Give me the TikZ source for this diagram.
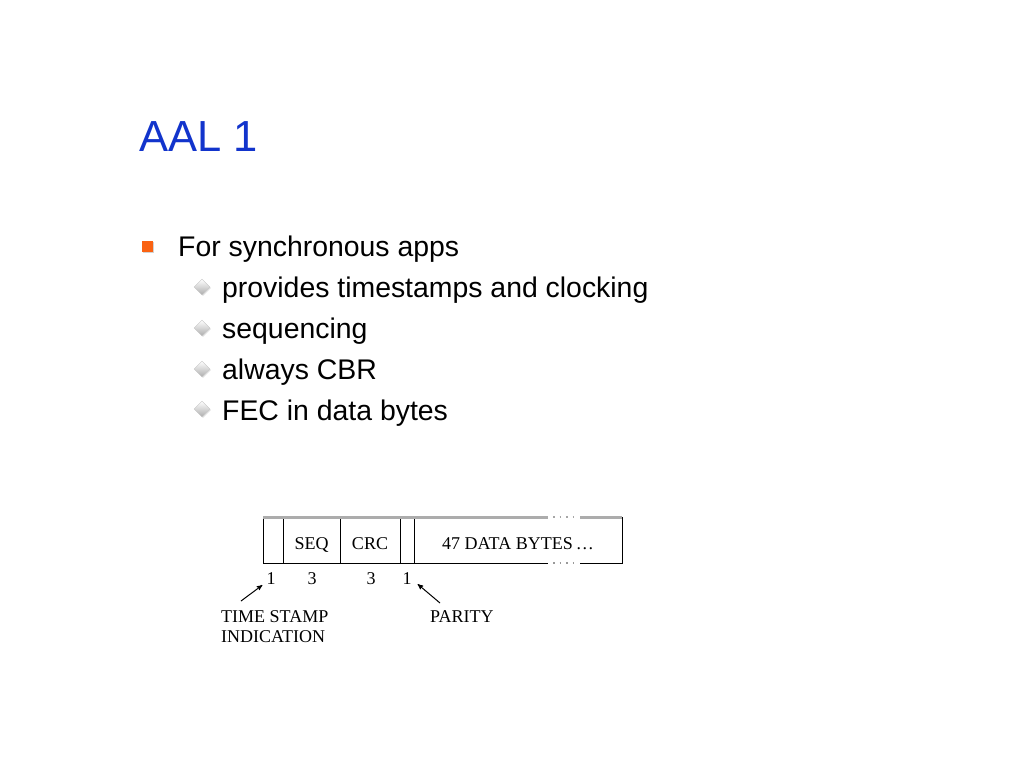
\documentclass[tikz,border=0pt]{standalone}
\usepackage{fontspec}
\setmainfont{Liberation Sans}
\newfontfamily\figfont{Liberation Serif}
\usetikzlibrary{calc,arrows,shapes.geometric,shadows}
\definecolor{titleblue}{RGB}{18,52,204}
\definecolor{bulorange}{RGB}{250,98,18}
\tikzstyle{arr}=[->,>=stealth',line width=1pt]

\begin{document}
\begin{tikzpicture}[x=1pt,y=-1pt]
\useasboundingbox[fill=white] (0,0) rectangle (1024,768);
\tikzstyle{t}=[anchor=base west,inner sep=0pt,font=\fontsize{28.4}{34}\selectfont]
\tikzstyle{dia}=[diamond,draw=gray!45,top color=white,bottom color=gray!65,minimum size=16pt,inner sep=0pt,drop shadow={shadow xshift=1pt,shadow yshift=-1pt,opacity=0.25}]
\tikzstyle{fld}=[rectangle,draw,line width=0.8pt,minimum height=46pt,inner sep=0pt,text height=18pt,text depth=0pt,font=\figfont\fontsize{18}{20}\selectfont]
\tikzstyle{num}=[inner sep=1pt,font=\figfont\fontsize{18}{20}\selectfont]
\tikzstyle{lab}=[anchor=north west,inner sep=0pt,align=left,font=\figfont\fontsize{18}{20}\selectfont]

\node[anchor=base west,inner sep=0pt,text=titleblue,font=\fontsize{43.5}{52}\selectfont] (title) at (139,151) {AAL 1};

% bullets
\node[rectangle,fill=bulorange,minimum size=11pt,inner sep=0pt,drop shadow={shadow xshift=1.5pt,shadow yshift=-1.5pt,opacity=0.35}] (b0) at (147,246) {};
\node[t] (l0) at (178,256) {For synchronous apps};
\node[dia] (d1) at (202,287) {};
\node[t] (l1) at (222,297) {provides timestamps and clocking};
\node[dia] (d2) at (202,328) {};
\node[t] (l2) at (222,338) {sequencing};
\node[dia] (d3) at (202,369) {};
\node[t] (l3) at (222,379) {always CBR};
\node[dia] (d4) at (202,409) {};
\node[t] (l4) at (222,420) {FEC in data bytes};

% cell format
\node[fld,minimum width=20pt] (ts) at (273,540) {};
\node[fld,minimum width=57pt] (seq) at (311.5,540) {SEQ};
\node[fld,minimum width=60pt] (crc) at (370,540) {CRC};
\node[fld,minimum width=14pt] (par) at (407,540) {};
\node[fld,minimum width=208pt] (data) at (518,540) {47 DATA BYTES\,\ldots};
\fill[white] (548,515) rectangle (580,520);
\fill[white] (548,561) rectangle (580,565);
\draw[gray!65,line width=3pt] (263,517) -- (548,517) (580,517) -- (622.4,517);
\draw[gray!70,line width=1.6pt,dash pattern=on 1.6pt off 5pt] (553,517) -- (578,517);
\draw[gray!80,line width=1.6pt,dash pattern=on 1.6pt off 5pt] (553,563) -- (578,563);

\node[num] (n1) at (271,579) {1};
\node[num] (n2) at (312,579) {3};
\node[num] (n3) at (371,579) {3};
\node[num] (n4) at (407,579) {1};

\node[lab] (tsl) at (221,610) {TIME STAMP\\INDICATION};
\node[lab] (parl) at (430,610) {PARITY};

\coordinate (tstail) at (241,601);
\coordinate (partail) at (440,603);
\draw[arr] (tstail) -- ($(n1.south west)+(-3,-1)$);
\draw[arr] (partail) -- ($(n4.south east)+(5,-2)$);
\end{tikzpicture}
\end{document}
